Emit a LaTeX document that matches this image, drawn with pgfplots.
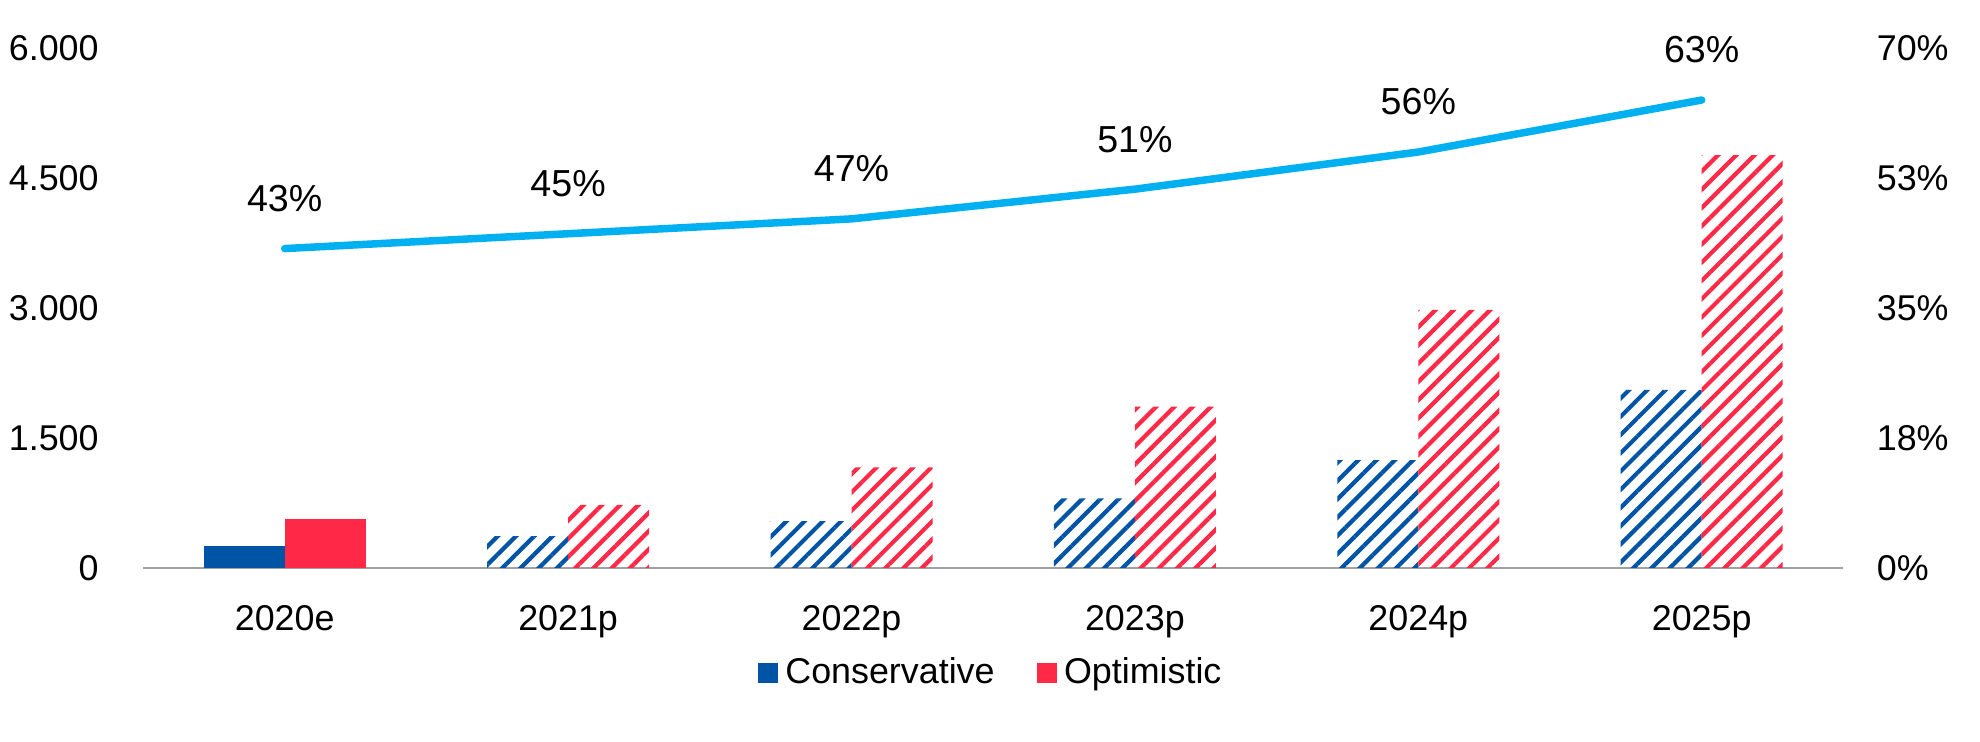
\documentclass[border=0pt]{standalone}
\usepackage{fontspec}
\setmainfont{Liberation Sans}
\usepackage{pgfplots}
\pgfplotsset{compat=1.18}
\usetikzlibrary{patterns.meta}
\definecolor{cblue}{RGB}{0,84,166}
\definecolor{cred}{RGB}{255,40,70}
\definecolor{ccyan}{RGB}{0,176,240}
\definecolor{cgray}{RGB}{160,160,160}
\begin{document}
\begin{tikzpicture}
\path[use as bounding box] (-1.43cm,-1.74cm) rectangle (18.37cm,5.68cm);
\pgfplotsset{
  common/.style={
    at={(0,0)}, anchor=south west,
    width=17.004cm, height=5.2cm, scale only axis,
    xmin=-0.5, xmax=5.5,
    font=\fontsize{10.2}{12}\selectfont,
    /pgf/number format/assume math mode=true,
    major tick length=0pt,
    clip=false,
  }
}
\begin{axis}[common,
  ymin=0, ymax=6000,
  ytick={0,1500,3000,4500,6000},
  /pgf/number format/1000 sep={.},
  xtick={0,1,2,3,4,5},
  xticklabels={2020e,2021p,2022p,2023p,2024p,2025p},
  axis x line*=bottom,
  axis y line*=left,
  y axis line style={draw=none},
  x axis line style={cgray, line width=0.025cm, -},
  yticklabel style={xshift=-0.32cm},
  xticklabel style={anchor=base, yshift=-0.627cm},
  legend style={at={(0.5,-0.2019)}, anchor=center, draw=none, legend columns=2,
    /tikz/every even column/.append style={column sep=0.35cm},
    font=\fontsize{10.2}{12}\selectfont},
  legend cell align=left,
]
\addplot[ybar, forget plot, bar width=0.81cm, bar shift=-0.405cm, fill=cblue, draw=none] coordinates {(0,254)};
\addplot[ybar, forget plot, bar width=0.81cm, bar shift=0.405cm, fill=cred, draw=none] coordinates {(0,562)};
\addplot[ybar, forget plot, bar width=0.81cm, bar shift=-0.405cm, draw=none,
  pattern={Lines[angle=45,distance=0.129cm,line width=0.042cm]}, pattern color=cblue]
  coordinates {(1,369) (2,542) (3,804) (4,1246) (5,2054)};
\addplot[ybar, forget plot, bar width=0.81cm, bar shift=0.405cm, draw=none,
  pattern={Lines[angle=45,distance=0.129cm,line width=0.042cm]}, pattern color=cred]
  coordinates {(1,727) (2,1162) (3,1861) (4,2977) (5,4765)};
\addlegendimage{legend image code/.code={\fill[cblue] (0cm,-0.095cm) rectangle (0.19cm,0.095cm);}}
\addlegendentry{Conservative}
\addlegendimage{legend image code/.code={\fill[cred] (0cm,-0.095cm) rectangle (0.19cm,0.095cm);}}
\addlegendentry{Optimistic}
\end{axis}
\begin{axis}[common,
  ymin=0, ymax=70,
  ytick={0,17.5,35,52.5,70},
  yticklabels={0\%,18\%,35\%,53\%,70\%},
  axis y line*=right,
  axis x line=none,
  y axis line style={draw=none},
  yticklabel style={anchor=west, xshift=0.21cm},
  nodes near coords={\pgfmathprintnumber[fixed,precision=0]{\pgfplotspointmeta}\%},
  every node near coord/.append style={anchor=center, yshift=0.5cm, text=black,
    font=\fontsize{10.7}{12}\selectfont},
]
\addplot[ccyan, line width=0.075cm, line cap=round, line join=round, mark=none]
  coordinates {(0,43) (1,45) (2,47) (3,51) (4,56) (5,63)};
\end{axis}
\end{tikzpicture}
\end{document}
